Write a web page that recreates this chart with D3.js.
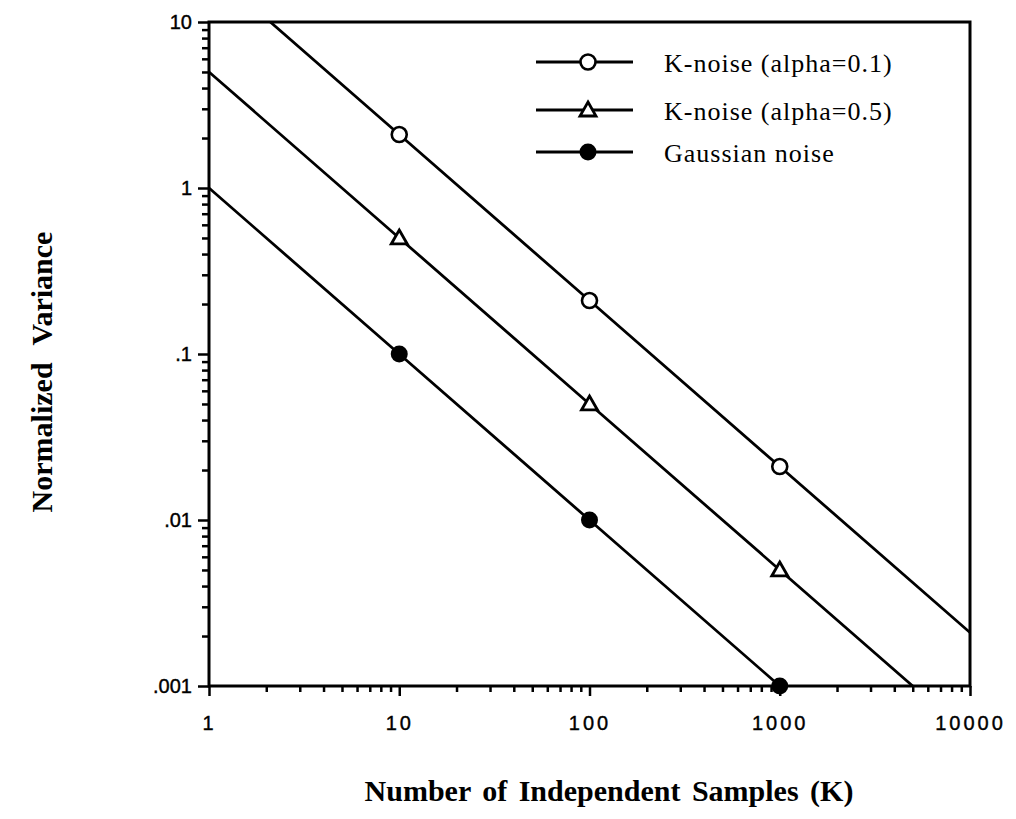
<!DOCTYPE html>
<html>
<head>
<meta charset="utf-8">
<script src="https://cdn.jsdelivr.net/npm/d3@7"></script>
<style>
  html, body { margin: 0; padding: 0; background: #fff; }
  svg { display: block; }
</style>
</head>
<body>
<svg id="chart" width="1016" height="819"></svg>
<script>
// Normalized variance versus number of independent samples K
const seriesNames = ["K-noise (alpha=0.1)", "K-noise (alpha=0.5)", "Gaussian noise"];
const markerTypes = ["openCircle", "openTriangle", "filledCircle"];

// line paths [K, variance]
const lineAlpha01 = [[2.1, 10], [10, 2.1], [100, 0.21], [1000, 0.021], [10000, 0.0021]];
const lineAlpha05 = [[1, 5], [10, 0.5], [100, 0.05], [1000, 0.005], [5000, 0.001]];
const lineGauss   = [[1, 1], [10, 0.1], [100, 0.01], [1000, 0.001]];

// plotted markers [K, variance]
const ptsAlpha01 = [[10, 2.1], [100, 0.21], [1000, 0.021]];
const ptsAlpha05 = [[10, 0.5], [100, 0.05], [1000, 0.005]];
const ptsGauss   = [[10, 0.1], [100, 0.01], [1000, 0.001]];

const xTicks = [1, 10, 100, 1000, 10000];
const xTickLabels = ["1", "10", "100", "1000", "10000"];
const yTicks = [0.001, 0.01, 0.1, 1, 10];
const yTickLabels = [".001", ".01", ".1", "1", "10"];

const lines = [lineAlpha01, lineAlpha05, lineGauss];
const points = [ptsAlpha01, ptsAlpha05, ptsGauss];

const svg = d3.select("#chart");
const plotL = 209, plotR = 970, plotT = 22, plotB = 686;

const x = d3.scaleLog().domain([1, 10000]).range([plotL, plotR]);
const y = d3.scaleLog().domain([0.001, 10]).range([plotB, plotT]);

function minorTicks(lo, hi) {
  const out = [];
  for (let d = lo; d < hi * 0.999; d *= 10)
    for (let m = 2; m <= 9; m++) out.push(d * m);
  return out;
}

const tickFont = "'Liberation Sans', Arial, Helvetica, sans-serif";
const serif = "'Liberation Serif', 'Times New Roman', Times, serif";

// minor ticks
svg.append("g")
  .attr("transform", `translate(0,${plotB})`)
  .call(d3.axisBottom(x).tickValues(minorTicks(1, 10000)).tickSize(6).tickFormat(""))
  .call(g => g.select(".domain").remove())
  .selectAll("line").attr("stroke", "#000").attr("stroke-width", 2.5);

svg.append("g")
  .attr("transform", `translate(${plotL},0)`)
  .call(d3.axisLeft(y).tickValues(minorTicks(0.001, 10)).tickSize(7).tickFormat(""))
  .call(g => g.select(".domain").remove())
  .selectAll("line").attr("stroke", "#000").attr("stroke-width", 2.5);

// major ticks + labels
const xAxis = svg.append("g")
  .attr("transform", `translate(0,${plotB})`)
  .call(d3.axisBottom(x).tickValues(xTicks).tickSize(10).tickPadding(20)
    .tickFormat((d, i) => xTickLabels[i]));
xAxis.select(".domain").remove();
xAxis.selectAll("line").attr("stroke", "#000").attr("stroke-width", 2.5);
xAxis.selectAll("text")
  .attr("font-family", tickFont).attr("font-size", 20)
  .attr("letter-spacing", "3px").attr("fill", "#000")
  .attr("stroke", "#000").attr("stroke-width", 0.4);

const yAxis = svg.append("g")
  .attr("transform", `translate(${plotL},0)`)
  .call(d3.axisLeft(y).tickValues(yTicks).tickSize(11).tickPadding(6)
    .tickFormat((d, i) => yTickLabels[i]));
yAxis.select(".domain").remove();
yAxis.selectAll("line").attr("stroke", "#000").attr("stroke-width", 2.5);
yAxis.selectAll("text")
  .attr("font-family", tickFont).attr("font-size", 20).attr("fill", "#000")
  .attr("stroke", "#000").attr("stroke-width", 0.4);

// frame
svg.append("rect")
  .attr("x", plotL).attr("y", plotT)
  .attr("width", plotR - plotL).attr("height", plotB - plotT)
  .attr("fill", "none").attr("stroke", "#000").attr("stroke-width", 3);

// series lines
const clipId = "plotClip";
svg.append("clipPath").attr("id", clipId)
  .append("rect").attr("x", plotL).attr("y", plotT)
  .attr("width", plotR - plotL).attr("height", plotB - plotT);

const lineGen = d3.line().x(d => x(d[0])).y(d => y(d[1]));
svg.append("g").attr("clip-path", `url(#${clipId})`)
  .selectAll("path").data(lines).join("path")
  .attr("d", lineGen)
  .attr("fill", "none").attr("stroke", "#000").attr("stroke-width", 2.8);

// markers
function drawMarker(g, type, cx, cy) {
  if (type === "openCircle") {
    g.append("circle").attr("cx", cx).attr("cy", cy).attr("r", 7.5)
      .attr("fill", "#fff").attr("stroke", "#000").attr("stroke-width", 2.6);
  } else if (type === "filledCircle") {
    g.append("circle").attr("cx", cx).attr("cy", cy).attr("r", 8.5)
      .attr("fill", "#000");
  } else {
    const s = 8;
    g.append("path")
      .attr("d", `M${cx},${cy - s}L${cx + s},${cy + s * 0.75}L${cx - s},${cy + s * 0.75}Z`)
      .attr("fill", "#fff").attr("stroke", "#000").attr("stroke-width", 2.8)
      .attr("stroke-linejoin", "miter");
  }
}

const mk = svg.append("g");
points.forEach((pts, i) => {
  pts.forEach(p => drawMarker(mk, markerTypes[i], x(p[0]), y(p[1])));
});

// legend
const legend = svg.append("g");
const legendRows = [62, 110, 152];
seriesNames.forEach((name, i) => {
  const ly = legendRows[i];
  legend.append("line").attr("x1", 536).attr("x2", 633).attr("y1", ly).attr("y2", ly)
    .attr("stroke", "#000").attr("stroke-width", 2.8);
  drawMarker(legend, markerTypes[i], 588, ly);
  legend.append("text").attr("x", 664).attr("y", ly + 10)
    .attr("font-family", serif).attr("font-size", 26).attr("fill", "#000")
    .attr("letter-spacing", "1px")
    .text(name);
});

// axis titles
svg.append("text")
  .attr("x", 609).attr("y", 801)
  .attr("text-anchor", "middle")
  .attr("font-family", serif).attr("font-weight", "bold").attr("font-size", 30)
  .attr("word-spacing", "4px").attr("fill", "#000")
  .text("Number of Independent Samples (K)");

svg.append("text")
  .attr("transform", "translate(52,372) rotate(-90)")
  .attr("text-anchor", "middle")
  .attr("font-family", serif).attr("font-weight", "bold").attr("font-size", 30)
  .attr("word-spacing", "10px").attr("fill", "#000")
  .text("Normalized Variance");
</script>
</body>
</html>
